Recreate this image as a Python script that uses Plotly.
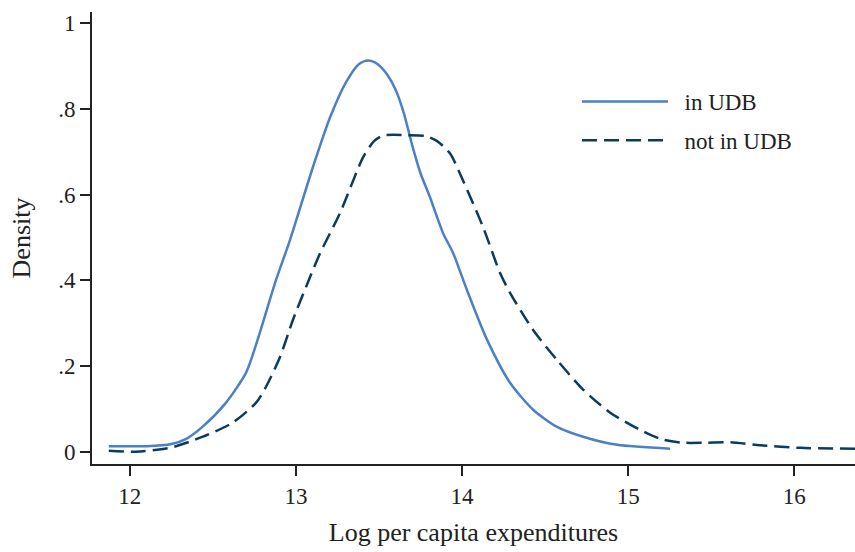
import plotly.graph_objects as go

# "in UDB" density (solid)
x_in = [11.873, 12.100, 12.250, 12.340, 12.440, 12.578, 12.699, 12.759, 12.819, 12.880,
        12.964, 13.102, 13.205, 13.307, 13.380, 13.434, 13.490, 13.550, 13.600, 13.650,
        13.700, 13.750, 13.807, 13.886, 13.946, 14.030, 14.151, 14.289, 14.428, 14.572,
        14.729, 14.934, 15.253]
y_in = [0.013, 0.013, 0.018, 0.030, 0.059, 0.114, 0.184, 0.249, 0.324, 0.401,
        0.494, 0.664, 0.780, 0.866, 0.905, 0.913, 0.905, 0.880, 0.845, 0.790,
        0.715, 0.650, 0.594, 0.510, 0.464, 0.377, 0.261, 0.161, 0.098, 0.058,
        0.035, 0.016, 0.007]

# "not in UDB" density (dashed)
x_out = [11.873, 12.036, 12.241, 12.440, 12.620, 12.759, 12.819, 12.904, 12.982, 13.060,
         13.145, 13.265, 13.404, 13.470, 13.524, 13.669, 13.780, 13.850, 13.928, 14.006,
         14.127, 14.229, 14.289, 14.428, 14.572, 14.729, 14.892, 15.072, 15.200, 15.330,
         15.470, 15.614, 15.795, 16.036, 16.367]
y_out = [0.002, 0.000, 0.009, 0.035, 0.068, 0.114, 0.151, 0.221, 0.308, 0.384,
         0.463, 0.557, 0.687, 0.725, 0.738, 0.739, 0.737, 0.725, 0.696, 0.633,
         0.524, 0.417, 0.371, 0.284, 0.214, 0.145, 0.091, 0.051, 0.029, 0.021,
         0.021, 0.022, 0.015, 0.009, 0.007]

x_ticks = [12, 13, 14, 15, 16]
y_ticks = [0, 0.2, 0.4, 0.6, 0.8, 1]
y_tick_labels = ["0", ".2", ".4", ".6", ".8", "1"]
series_names = ["in UDB", "not in UDB"]

FONT = "Liberation Serif"

fig = go.Figure()
fig.add_trace(go.Scatter(x=x_in, y=y_in, mode="lines", name="\u2002" + series_names[0],
                         legendgroup="a",
                         line=dict(color="#4b81c4", width=2.5, shape="spline", smoothing=0.7)))
fig.add_trace(go.Scatter(x=x_out, y=y_out, mode="lines", name="\u2002" + series_names[1],
                         legendgroup="b",
                         line=dict(color="#0b3b5f", width=2.5, dash="15px,7px",
                                   shape="spline", smoothing=0.7)))

fig.update_layout(
    width=855, height=552,
    margin=dict(l=92, r=0, t=12, b=88),
    paper_bgcolor="white", plot_bgcolor="white",
    font=dict(family=FONT, size=23, color="#222222"),
    showlegend=True,
    legend=dict(x=(577 - 92) / 763, y=1 - (80 - 12) / 452, xanchor="left", yanchor="top",
                bgcolor="rgba(0,0,0,0)", font=dict(family=FONT, size=23, color="#222222"),
                itemwidth=86, traceorder="grouped", tracegroupgap=6),
    xaxis=dict(range=[11.772, 16.366], tickvals=x_ticks, ticks="outside", ticklen=10,
               tickwidth=2, tickcolor="#222222", showline=True, linewidth=2,
               linecolor="#222222", showgrid=False, zeroline=False,
               tickfont=dict(family=FONT, size=23, color="#222222"),
               title=dict(text="Log per capita expenditures", standoff=15,
                          font=dict(family=FONT, size=26, color="#222222"))),
    yaxis=dict(range=[-0.0287, 1.0264], tickvals=y_ticks, ticktext=y_tick_labels,
               ticks="outside", ticklen=10, tickwidth=2, tickcolor="#222222",
               showline=True, linewidth=2, linecolor="#222222", showgrid=False,
               zeroline=False, tickfont=dict(family=FONT, size=23, color="#222222"),
               title=dict(text="Density", standoff=20,
                          font=dict(family=FONT, size=26, color="#222222"))),
)

fig.write_html("out.html")
